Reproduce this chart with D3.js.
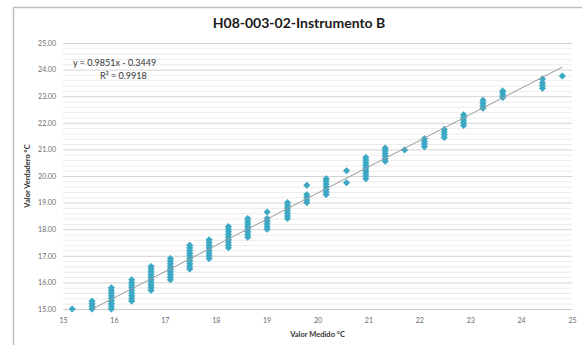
<!DOCTYPE html>
<html>
<head>
<meta charset="utf-8">
<script src="https://cdn.jsdelivr.net/npm/d3@7"></script>
<style>
  body { margin: 0; background: #fff; }
  text { font-family: Lato, "Open Sans", sans-serif; }
</style>
</head>
<body>
<div id="chart"></div>
<script>
// measured values (x) of each group of readings
const medido = [15.18, 15.57, 15.95, 16.35, 16.73, 17.11, 17.49, 17.87, 18.25, 18.63,
  19.01, 19.41, 19.79, 20.17, 20.57, 20.95, 21.33, 21.71, 22.10, 22.49, 22.87, 23.25,
  23.64, 24.42, 24.81];

// true values (y) read at each measured value
const verdadero = [
  [15.0],
  [15.0, 15.1, 15.2, 15.3],
  [15.0, 15.1, 15.2, 15.3, 15.4, 15.5, 15.6, 15.7, 15.8],
  [15.3, 15.4, 15.5, 15.6, 15.7, 15.8, 15.9, 16.0, 16.1],
  [15.7, 15.8, 15.9, 16.0, 16.1, 16.2, 16.3, 16.4, 16.5, 16.6],
  [16.1, 16.2, 16.3, 16.4, 16.5, 16.6, 16.7, 16.8, 16.9],
  [16.5, 16.6, 16.7, 16.8, 16.9, 17.0, 17.1, 17.2, 17.3, 17.4],
  [16.9, 17.0, 17.1, 17.2, 17.3, 17.4, 17.5, 17.6],
  [17.3, 17.4, 17.5, 17.6, 17.7, 17.8, 17.9, 18.0, 18.1],
  [17.7, 17.8, 17.9, 18.0, 18.1, 18.2, 18.3, 18.4],
  [18.0, 18.1, 18.2, 18.3, 18.4, 18.65],
  [18.4, 18.5, 18.6, 18.7, 18.8, 18.9, 19.0],
  [19.0, 19.1, 19.2, 19.3, 19.65],
  [19.3, 19.4, 19.5, 19.6, 19.7, 19.8, 19.9],
  [19.75, 20.2],
  [19.9, 20.0, 20.1, 20.2, 20.3, 20.4, 20.5, 20.6, 20.7],
  [20.55, 20.65, 20.75, 20.85, 20.95, 21.05],
  [20.98],
  [21.1, 21.2, 21.3, 21.4],
  [21.45, 21.55, 21.65, 21.75],
  [21.9, 22.0, 22.1, 22.2, 22.3],
  [22.55, 22.65, 22.75, 22.85],
  [22.95, 23.05, 23.15, 23.2],
  [23.3, 23.4, 23.5, 23.65],
  [23.76]
];

const xTicks = [15, 16, 17, 18, 19, 20, 21, 22, 23, 24, 25];
const yTicks = [15, 16, 17, 18, 19, 20, 21, 22, 23, 24, 25];

// trendline from the chart: y = slope * x + intercept
const slope = 0.9851, intercept = -0.3449;

const width = 582, height = 345;
const margin = { top: 43, right: 10, bottom: 36, left: 63 };
const graphWidth = width - margin.left - margin.right;
const graphHeight = height - margin.top - margin.bottom;

const svg = d3.select('#chart').append('svg')
  .attr('width', width)
  .attr('height', height);

// chart frame (only top/left edges visible in the picture)
svg.append('rect')
  .attr('x', 13.5).attr('y', 7.5)
  .attr('width', width + 20).attr('height', height + 20)
  .attr('fill', '#fff')
  .attr('stroke', '#bfbfbf')
  .attr('stroke-width', 1.5);

svg.append('text')
  .attr('x', 299).attr('y', 28)
  .attr('text-anchor', 'middle')
  .style('font-size', '14px')
  .style('font-weight', 'bold')
  .attr('fill', '#1a1a1a')
  .text('H08-003-02-Instrumento B');

const chart = svg.append('g')
  .attr('transform', `translate(${margin.left},${margin.top})`);

const xScale = d3.scaleLinear().domain([15, 25]).range([0, graphWidth]);
const yScale = d3.scaleLinear().domain([15, 25]).range([graphHeight, 0]);

// minor gridlines every 0.2
const minor = d3.range(150, 251, 2).map(v => v / 10).filter(v => v % 1 !== 0);
chart.append('g')
  .attr('class', 'minor-grid')
  .call(d3.axisLeft(yScale).tickValues(minor).tickSize(-graphWidth).tickFormat(''))
  .call(g => g.select('.domain').remove())
  .call(g => g.selectAll('line').attr('stroke', '#ececec'));

// major gridlines
chart.append('g')
  .attr('class', 'y-axis')
  .call(d3.axisLeft(yScale).tickValues(yTicks).tickSize(-graphWidth).tickPadding(7)
    .tickFormat(d3.format('.2f')))
  .call(g => g.select('.domain').remove())
  .call(g => g.selectAll('line').attr('stroke', '#d4d4d4'))
  .call(g => g.selectAll('text').attr('fill', '#6b6b6b').style('font-size', '7px'));

// x axis
chart.append('g')
  .attr('class', 'x-axis')
  .attr('transform', `translate(0,${graphHeight})`)
  .call(d3.axisBottom(xScale).tickValues(xTicks).tickSize(0).tickPadding(9).tickFormat(d3.format('d')))
  .call(g => g.select('.domain').attr('stroke', '#c8c8c8'))
  .call(g => g.selectAll('text').attr('fill', '#6b6b6b').style('font-size', '7px'));

// axis titles
chart.append('text')
  .attr('x', graphWidth / 2)
  .attr('y', graphHeight + 28)
  .attr('text-anchor', 'middle')
  .style('font-size', '7.5px')
  .style('font-weight', 'bold')
  .attr('fill', '#333')
  .text('Valor Medido °C');

chart.append('text')
  .attr('transform', 'rotate(-90)')
  .attr('x', -graphHeight / 2)
  .attr('y', -33)
  .attr('text-anchor', 'middle')
  .style('font-size', '7.5px')
  .style('font-weight', 'bold')
  .attr('fill', '#333')
  .text('Valor Verdadero °C');

// points (square markers turned 45deg, like the spreadsheet diamonds)
const points = [];
medido.forEach((x, i) => verdadero[i].forEach(y => points.push({ x, y })));

chart.selectAll('.pt')
  .data(points)
  .enter()
  .append('path')
  .attr('class', 'pt')
  .attr('d', d3.symbol().type(d3.symbolSquare).size(21))
  .attr('transform', d => `translate(${xScale(d.x)},${yScale(d.y)}) rotate(45)`)
  .attr('fill', '#3ba8c5')
  .attr('stroke', '#3ba8c5')
  .attr('stroke-width', 0.6)
  .attr('stroke-linejoin', 'round');

// trendline, clipped to the plot area
chart.append('clipPath').attr('id', 'plot-clip')
  .append('rect').attr('width', graphWidth).attr('height', graphHeight);

const xMin = d3.min(medido), xMax = d3.max(medido);
const trend = [xMin, xMax].map(x => ({ x, y: slope * x + intercept }));
chart.append('path')
  .datum(trend)
  .attr('clip-path', 'url(#plot-clip)')
  .attr('fill', 'none')
  .attr('stroke', '#9a9a9a')
  .attr('stroke-width', 1)
  .attr('d', d3.line().x(d => xScale(d.x)).y(d => yScale(d.y)));

// equation text
chart.append('text')
  .attr('x', 10).attr('y', 23)
  .style('font-size', '9px')
  .attr('fill', '#333')
  .text(`y = ${slope}x - ${Math.abs(intercept)}`);

chart.append('text')
  .attr('x', 37).attr('y', 36)
  .style('font-size', '9px')
  .attr('fill', '#333')
  .text('R² = 0.9918');
</script>
</body>
</html>
